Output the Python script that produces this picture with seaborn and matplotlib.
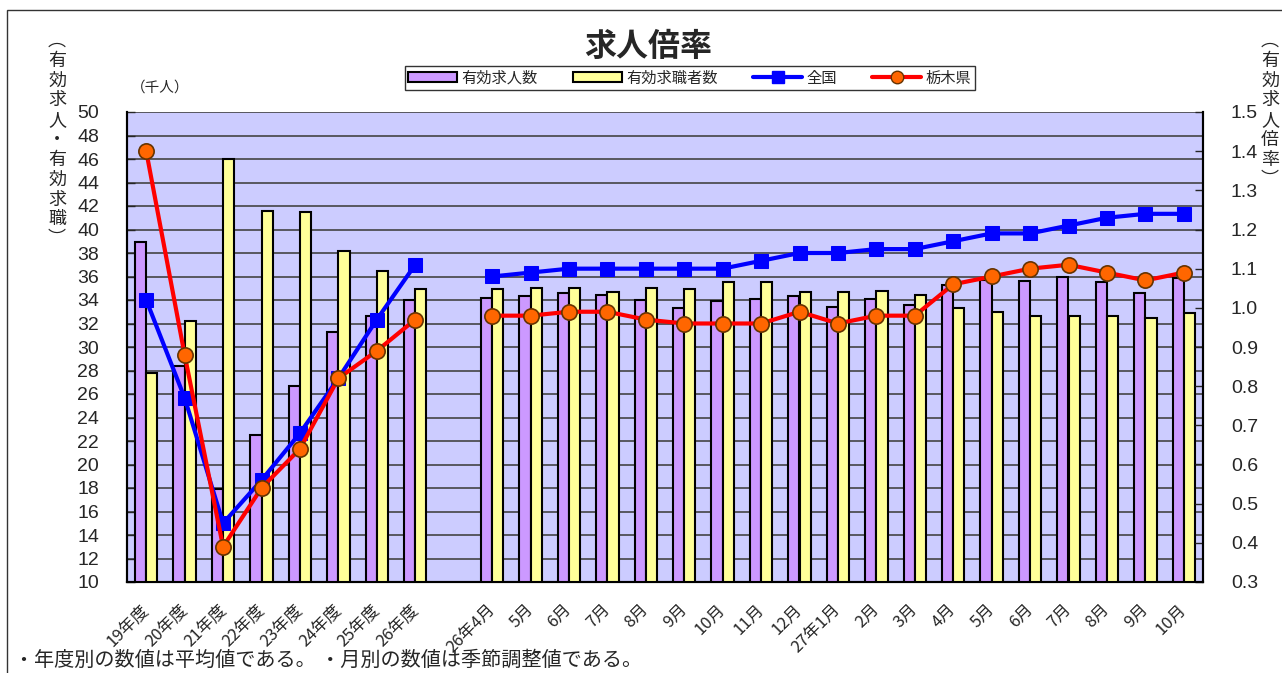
import seaborn as sns
import matplotlib.pyplot as plt
import pandas as pd
from matplotlib.patches import Patch, Rectangle
from matplotlib.lines import Line2D
from matplotlib.ticker import MultipleLocator, FixedLocator

# categories (slot 8 is left empty between the yearly and monthly groups)
years = ["19年度", "20年度", "21年度", "22年度", "23年度", "24年度", "25年度", "26年度"]
months = ["26年4月", "5月", "6月", "7月", "8月", "9月", "10月", "11月", "12月", "27年1月",
          "2月", "3月", "4月", "5月", "6月", "7月", "8月", "9月", "10月"]

# 有効求人数 / 有効求職者数 (千人)
kyujin_year = [38.9, 28.4, 17.9, 22.5, 26.7, 31.3, 32.6, 34.0]
kyushoku_year = [27.8, 32.2, 46.0, 41.6, 41.5, 38.2, 36.5, 34.9]
kyujin_month = [34.2, 34.3, 34.6, 34.4, 34.0, 33.3, 33.9, 34.1, 34.3, 33.4,
                34.1, 33.6, 35.3, 35.7, 35.6, 36.0, 35.5, 34.6, 35.9]
kyushoku_month = [34.9, 35.0, 35.0, 34.7, 35.0, 34.9, 35.5, 35.5, 34.7, 34.7,
                  34.8, 34.4, 33.3, 33.0, 32.6, 32.6, 32.6, 32.5, 32.9]

# 有効求人倍率
zenkoku_year = [1.02, 0.77, 0.45, 0.56, 0.68, 0.82, 0.97, 1.11]
tochigi_year = [1.40, 0.88, 0.39, 0.54, 0.64, 0.82, 0.89, 0.97]
zenkoku_month = [1.08, 1.09, 1.10, 1.10, 1.10, 1.10, 1.10, 1.12, 1.14, 1.14,
                 1.15, 1.15, 1.17, 1.19, 1.19, 1.21, 1.23, 1.24, 1.24]
tochigi_month = [0.98, 0.98, 0.99, 0.99, 0.97, 0.96, 0.96, 0.96, 0.99, 0.96,
                 0.98, 0.98, 1.06, 1.08, 1.10, 1.11, 1.09, 1.07, 1.09]

pos_year = list(range(len(years)))
pos_month = list(range(len(years) + 1, len(years) + 1 + len(months)))
positions = pos_year + pos_month
labels = years + [""] + months

bars = pd.DataFrame({
    "pos": positions * 2,
    "value": kyujin_year + kyujin_month + kyushoku_year + kyushoku_month,
    "series": ["有効求人数"] * len(positions) + ["有効求職者数"] * len(positions),
})
seg = ["year"] * len(pos_year) + ["month"] * len(pos_month)
zenkoku = pd.DataFrame({"pos": positions, "value": zenkoku_year + zenkoku_month, "seg": seg})
tochigi = pd.DataFrame({"pos": positions, "value": tochigi_year + tochigi_month, "seg": seg})

sns.set_style("white")
plt.rcParams["font.family"] = ["Noto Sans CJK JP", "DejaVu Sans"]
num_font = ["Liberation Sans Narrow", "Liberation Sans", "DejaVu Sans"]

fig = plt.figure(figsize=(12.82, 6.73), dpi=100)
ax = fig.add_axes([127 / 1282, 1 - 582 / 673, (1203 - 127) / 1282, (582 - 112) / 673])
ax.set_facecolor("#CCCCFF")

sns.barplot(data=bars, x="pos", y="value", hue="series",
            hue_order=["有効求人数", "有効求職者数"],
            palette=["#CC99FF", "#FFFF99"], saturation=1,
            native_scale=True, width=0.58, edgecolor="black", linewidth=1.5,
            legend=False, ax=ax, zorder=3)

ax.set_ylim(10, 50)
ax.yaxis.set_major_locator(MultipleLocator(2))
ax.grid(axis="y", color="#444444", linewidth=1.2, zorder=0)
ax.set_axisbelow(True)
ax.get_ygridlines()[-1].set_visible(False)

ax2 = ax.twinx()
sns.lineplot(data=zenkoku, x="pos", y="value", units="seg", estimator=None,
             color="#0000FF", linewidth=3, marker="s", markersize=10,
             markeredgecolor="#0000FF", legend=False, ax=ax2)
sns.lineplot(data=tochigi, x="pos", y="value", units="seg", estimator=None,
             color="#FF0000", linewidth=3, marker="o", markersize=11,
             markerfacecolor="#FF6600", markeredgecolor="#663300",
             markeredgewidth=1.2, legend=False, ax=ax2)
ax2.set_ylim(0.3, 1.5)
ax2.yaxis.set_major_locator(MultipleLocator(0.1))
ax2.set_yticklabels([f"{v:.1f}" for v in ax2.get_yticks()])

ax.set_xlim(-0.5, len(labels) - 0.5)
ax.set_xticks(range(len(labels)))
ax.set_xticklabels(labels, rotation=45, ha="right", va="center",
                   rotation_mode="anchor", fontsize=12)
ax.xaxis.set_minor_locator(FixedLocator([i + 0.5 for i in range(-1, len(labels))]))
ax.tick_params(axis="x", which="major", length=0, pad=18)
ax.tick_params(axis="x", which="minor", direction="in", length=5, width=1)
ax.tick_params(axis="y", direction="in", length=6, width=1, pad=20, labelsize=14)
ax2.tick_params(axis="y", direction="in", length=6, width=1, pad=20, labelsize=14)
for lab in ax.get_yticklabels() + ax2.get_yticklabels():
    lab.set_family(num_font)

for a in (ax, ax2):
    a.set_xlabel("")
    a.set_ylabel("")
    a.spines["top"].set_visible(False)
    for s in ("left", "right", "bottom"):
        a.spines[s].set_color("black")
        a.spines[s].set_linewidth(1.5)

fig.text(648 / 1282, 1 - 47 / 673, "求人倍率", ha="center", va="center",
         fontsize=23, fontweight="bold")
fig.text(131 / 1282, 1 - 88 / 673, "（千人）", ha="left", va="center", fontsize=10.5)
fig.text(57 / 1282, 1 - 32 / 673, "\n".join("︵有効求人・有効求職︶"), ha="center",
         va="top", fontsize=13, linespacing=1.13)
fig.text(1270 / 1282, 1 - 32 / 673, "\n".join("︵有効求人倍率︶"), ha="center",
         va="top", fontsize=13, linespacing=1.13)
fig.text(14 / 1282, 1 - 650 / 673, "・年度別の数値は平均値である。 ・月別の数値は季節調整値である。",
         ha="left", va="top", fontsize=14.5)

handles = [
    Patch(facecolor="#CC99FF", edgecolor="black", linewidth=1.5),
    Patch(facecolor="#FFFF99", edgecolor="black", linewidth=1.5),
    Line2D([], [], color="#0000FF", linewidth=3, marker="s", markersize=9),
    Line2D([], [], color="#FF0000", linewidth=3, marker="o", markersize=9,
           markerfacecolor="#FF6600", markeredgecolor="#663300"),
]
leg = fig.legend(handles, ["有効求人数", "有効求職者数", "全国", "栃木県"], ncol=4,
                 loc="center", bbox_to_anchor=(690 / 1282, 1 - 78 / 673),
                 fontsize=11, frameon=True, fancybox=False, edgecolor="black",
                 handlelength=3.2, handleheight=0.6, columnspacing=2.3,
                 borderpad=0.2, handletextpad=0.3)
leg.get_frame().set_linewidth(1)

fig.patches.append(Rectangle((7 / 1282, -0.1), 1.2, 1 - 10 / 673 + 0.1,
                             transform=fig.transFigure, fill=False,
                             edgecolor="#333333", linewidth=1))

fig.savefig("out.png", dpi=100)
